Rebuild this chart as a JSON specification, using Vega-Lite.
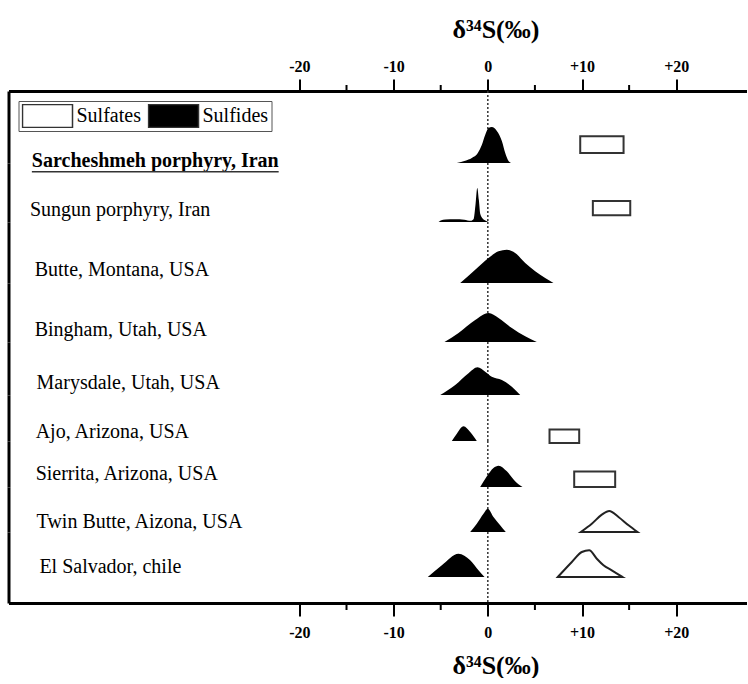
{
  "$schema": "https://vega.github.io/schema/vega-lite/v6.json",
  "padding": {"left": 8.5, "top": 16, "right": 0, "bottom": 0},
  "background": "white",
  "bounds": "flush",
  "datasets": {
    "sites": [
      {"site": "Sarcheshmeh porphyry, Iran"},
      {"site": "Sungun porphyry, Iran"},
      {"site": "Butte, Montana, USA"},
      {"site": "Bingham, Utah, USA"},
      {"site": "Marysdale, Utah, USA"},
      {"site": "Ajo, Arizona, USA"},
      {"site": "Sierrita, Arizona, USA"},
      {"site": "Twin Butte, Aizona, USA"},
      {"site": "El Salvador, chile"}
    ],
    "minor_ticks": [{"d34S": -15}, {"d34S": -5}, {"d34S": 5}, {"d34S": 15}],
    "sulfides": [
      {"site": "Sarcheshmeh porphyry, Iran", "d34S": -3.29, "freq": 0},
      {"site": "Sarcheshmeh porphyry, Iran", "d34S": -2.4, "freq": 0.23},
      {"site": "Sarcheshmeh porphyry, Iran", "d34S": -1.7, "freq": 0.5},
      {"site": "Sarcheshmeh porphyry, Iran", "d34S": -1.06, "freq": 1.0},
      {"site": "Sarcheshmeh porphyry, Iran", "d34S": -0.64, "freq": 1.8},
      {"site": "Sarcheshmeh porphyry, Iran", "d34S": -0.28, "freq": 2.8},
      {"site": "Sarcheshmeh porphyry, Iran", "d34S": 0.07, "freq": 3.5},
      {"site": "Sarcheshmeh porphyry, Iran", "d34S": 0.42, "freq": 3.6},
      {"site": "Sarcheshmeh porphyry, Iran", "d34S": 0.96, "freq": 3.2},
      {"site": "Sarcheshmeh porphyry, Iran", "d34S": 1.49, "freq": 2.2},
      {"site": "Sarcheshmeh porphyry, Iran", "d34S": 1.85, "freq": 1.0},
      {"site": "Sarcheshmeh porphyry, Iran", "d34S": 2.2, "freq": 0.2},
      {"site": "Sarcheshmeh porphyry, Iran", "d34S": 2.48, "freq": 0},
      {"site": "Sungun porphyry, Iran", "d34S": -5.23, "freq": 0},
      {"site": "Sungun porphyry, Iran", "d34S": -5.0, "freq": 0.15},
      {"site": "Sungun porphyry, Iran", "d34S": -4.5, "freq": 0.25},
      {"site": "Sungun porphyry, Iran", "d34S": -3.5, "freq": 0.28},
      {"site": "Sungun porphyry, Iran", "d34S": -2.5, "freq": 0.23},
      {"site": "Sungun porphyry, Iran", "d34S": -1.8, "freq": 0.12},
      {"site": "Sungun porphyry, Iran", "d34S": -1.5, "freq": 0.3},
      {"site": "Sungun porphyry, Iran", "d34S": -1.3, "freq": 1.8},
      {"site": "Sungun porphyry, Iran", "d34S": -1.12, "freq": 3.4},
      {"site": "Sungun porphyry, Iran", "d34S": -0.95, "freq": 2.2},
      {"site": "Sungun porphyry, Iran", "d34S": -0.8, "freq": 0.8},
      {"site": "Sungun porphyry, Iran", "d34S": -0.5, "freq": 0.3},
      {"site": "Sungun porphyry, Iran", "d34S": -0.2, "freq": 0.12},
      {"site": "Sungun porphyry, Iran", "d34S": 0.05, "freq": 0},
      {"site": "Butte, Montana, USA", "d34S": -2.93, "freq": 0},
      {"site": "Butte, Montana, USA", "d34S": -1.34, "freq": 1.33},
      {"site": "Butte, Montana, USA", "d34S": 0.07, "freq": 2.5},
      {"site": "Butte, Montana, USA", "d34S": 1.14, "freq": 3.17},
      {"site": "Butte, Montana, USA", "d34S": 2.02, "freq": 3.33},
      {"site": "Butte, Montana, USA", "d34S": 2.9, "freq": 3.0},
      {"site": "Butte, Montana, USA", "d34S": 3.97, "freq": 2.0},
      {"site": "Butte, Montana, USA", "d34S": 5.03, "freq": 1.17},
      {"site": "Butte, Montana, USA", "d34S": 6.09, "freq": 0.5},
      {"site": "Butte, Montana, USA", "d34S": 6.97, "freq": 0},
      {"site": "Bingham, Utah, USA", "d34S": -4.6, "freq": 0},
      {"site": "Bingham, Utah, USA", "d34S": -3.11, "freq": 0.9},
      {"site": "Bingham, Utah, USA", "d34S": -1.34, "freq": 2.2},
      {"site": "Bingham, Utah, USA", "d34S": 0.07, "freq": 2.9},
      {"site": "Bingham, Utah, USA", "d34S": 1.14, "freq": 2.4},
      {"site": "Bingham, Utah, USA", "d34S": 2.55, "freq": 1.4},
      {"site": "Bingham, Utah, USA", "d34S": 3.97, "freq": 0.57},
      {"site": "Bingham, Utah, USA", "d34S": 5.2, "freq": 0},
      {"site": "Marysdale, Utah, USA", "d34S": -5.05, "freq": 0},
      {"site": "Marysdale, Utah, USA", "d34S": -3.46, "freq": 1.0},
      {"site": "Marysdale, Utah, USA", "d34S": -2.05, "freq": 2.17},
      {"site": "Marysdale, Utah, USA", "d34S": -1.09, "freq": 2.77},
      {"site": "Marysdale, Utah, USA", "d34S": -0.28, "freq": 2.33},
      {"site": "Marysdale, Utah, USA", "d34S": 0.42, "freq": 1.83},
      {"site": "Marysdale, Utah, USA", "d34S": 1.49, "freq": 1.5},
      {"site": "Marysdale, Utah, USA", "d34S": 2.55, "freq": 0.83},
      {"site": "Marysdale, Utah, USA", "d34S": 3.44, "freq": 0},
      {"site": "Ajo, Arizona, USA", "d34S": -3.82, "freq": 0},
      {"site": "Ajo, Arizona, USA", "d34S": -3.29, "freq": 0.73},
      {"site": "Ajo, Arizona, USA", "d34S": -2.58, "freq": 1.47},
      {"site": "Ajo, Arizona, USA", "d34S": -1.87, "freq": 0.9},
      {"site": "Ajo, Arizona, USA", "d34S": -1.17, "freq": 0},
      {"site": "Sierrita, Arizona, USA", "d34S": -0.81, "freq": 0},
      {"site": "Sierrita, Arizona, USA", "d34S": -0.1, "freq": 1.07},
      {"site": "Sierrita, Arizona, USA", "d34S": 0.6, "freq": 1.9},
      {"site": "Sierrita, Arizona, USA", "d34S": 1.14, "freq": 2.13},
      {"site": "Sierrita, Arizona, USA", "d34S": 2.02, "freq": 1.57},
      {"site": "Sierrita, Arizona, USA", "d34S": 2.9, "freq": 0.57},
      {"site": "Sierrita, Arizona, USA", "d34S": 3.68, "freq": 0},
      {"site": "Twin Butte, Aizona, USA", "d34S": -1.87, "freq": 0},
      {"site": "Twin Butte, Aizona, USA", "d34S": -1.17, "freq": 0.83},
      {"site": "Twin Butte, Aizona, USA", "d34S": -0.46, "freq": 1.83},
      {"site": "Twin Butte, Aizona, USA", "d34S": 0.0, "freq": 2.33},
      {"site": "Twin Butte, Aizona, USA", "d34S": 0.6, "freq": 1.5},
      {"site": "Twin Butte, Aizona, USA", "d34S": 1.31, "freq": 0.67},
      {"site": "Twin Butte, Aizona, USA", "d34S": 1.91, "freq": 0},
      {"site": "El Salvador, chile", "d34S": -6.37, "freq": 0},
      {"site": "El Salvador, chile", "d34S": -4.88, "freq": 1.17},
      {"site": "El Salvador, chile", "d34S": -3.11, "freq": 2.33},
      {"site": "El Salvador, chile", "d34S": -1.87, "freq": 1.67},
      {"site": "El Salvador, chile", "d34S": -0.99, "freq": 0.67},
      {"site": "El Salvador, chile", "d34S": -0.35, "freq": 0}
    ],
    "sulfates": [
      {"site": "Twin Butte, Aizona, USA", "d34S": 9.87, "freq": 0},
      {"site": "Twin Butte, Aizona, USA", "d34S": 11.04, "freq": 0.83},
      {"site": "Twin Butte, Aizona, USA", "d34S": 12.1, "freq": 1.73},
      {"site": "Twin Butte, Aizona, USA", "d34S": 12.89, "freq": 2.1},
      {"site": "Twin Butte, Aizona, USA", "d34S": 13.87, "freq": 1.5},
      {"site": "Twin Butte, Aizona, USA", "d34S": 14.94, "freq": 0.67},
      {"site": "Twin Butte, Aizona, USA", "d34S": 15.89, "freq": 0},
      {"site": "El Salvador, chile", "d34S": 7.43, "freq": 0},
      {"site": "El Salvador, chile", "d34S": 8.92, "freq": 1.5},
      {"site": "El Salvador, chile", "d34S": 9.98, "freq": 2.5},
      {"site": "El Salvador, chile", "d34S": 10.76, "freq": 2.67},
      {"site": "El Salvador, chile", "d34S": 11.57, "freq": 1.83},
      {"site": "El Salvador, chile", "d34S": 12.28, "freq": 1.17},
      {"site": "El Salvador, chile", "d34S": 13.16, "freq": 0.67},
      {"site": "El Salvador, chile", "d34S": 14.3, "freq": 0}
    ],
    "sulfate_ranges": [
      {"site": "Sarcheshmeh porphyry, Iran", "lo": 9.81, "hi": 14.41},
      {"site": "Sungun porphyry, Iran", "lo": 11.15, "hi": 15.12},
      {"site": "Ajo, Arizona, USA", "lo": 6.55, "hi": 9.7},
      {"site": "Sierrita, Arizona, USA", "lo": 9.17, "hi": 13.52}
    ]
  },
  "vconcat": [
    {
      "height": 72, "width": 738,
      "layer": [
        {"data": {"name": "sites"}, "transform": [{"filter": "datum.site === 'Sarcheshmeh porphyry, Iran'"}],
         "mark": {"type": "rule", "strokeDash": [2, 2], "strokeWidth": 1.5, "color": "#333"},
         "encoding": {"x": {"datum": 0, "type": "quantitative"}}},
        {"data": {"name": "minor_ticks"},
         "mark": {"type": "rule", "strokeWidth": 2, "color": "black"},
         "encoding": {"x": {"field": "d34S", "type": "quantitative"},
                      "y": {"datum": 7.2, "type": "quantitative", "title": null}, "y2": {"datum": 7.8}}},
        {"data": {"name": "sulfides"}, "transform": [{"filter": "datum.site === 'Sarcheshmeh porphyry, Iran'"}],
         "mark": {"type": "area", "interpolate": "monotone"},
         "encoding": {
           "x": {"field": "d34S", "type": "quantitative", "scale": {"domain": [-50.88, 27.46], "nice": false, "zero": false},
                 "axis": {"orient": "top", "values": [-20, -10, 0, 10, 20],
                          "labelExpr": "datum.value > 0 ? '+' + datum.value : '' + datum.value",
                          "tickSize": 12,
                          "labelPadding": 5, "title": "δ³⁴S(‰)", "titleX": 487, "titlePadding": 16}},
           "y": {"field": "freq", "type": "quantitative", "stack": null, "scale": {"domain": [0, 7.2], "nice": false, "zero": false}, "title": null},
           "color": {"datum": "Sulfides", "type": "nominal",
                     "scale": {"domain": ["Sulfates", "Sulfides"], "range": ["white", "black"]},
                     "legend": {"orient": "top-left", "offset": 10, "direction": "horizontal", "title": null,
                                "symbolType": "M-1,-0.46H1V0.46H-1Z", "symbolSize": 2500, "clipHeight": 24,
                                "symbolStrokeColor": "#555", "symbolStrokeWidth": 1.5, "symbolOpacity": 1,
                                "labelFont": "Liberation Serif", "labelFontSize": 20, "labelColor": "black",
                                "labelOffset": 3, "columnPadding": 6, "padding": 3,
                                "strokeColor": "#555", "fillColor": "white"}}
         }},
        {"data": {"name": "sulfate_ranges"}, "transform": [{"filter": "datum.site === 'Sarcheshmeh porphyry, Iran'"}],
         "mark": {"type": "rect", "stroke": "#333", "strokeWidth": 2},
         "encoding": {"x": {"field": "lo", "type": "quantitative"}, "x2": {"field": "hi"},
                      "y": {"datum": 1.0, "type": "quantitative", "title": null}, "y2": {"datum": 2.67},
                      "color": {"datum": "Sulfates", "type": "nominal"}}},
        {"data": {"name": "sites"}, "transform": [{"filter": "datum.site === 'Sarcheshmeh porphyry, Iran'"}],
         "mark": {"type": "text", "align": "left", "baseline": "middle", "font": "Liberation Serif", "fontSize": 20, "fontWeight": "bold", "color": "black"},
         "encoding": {"x": {"datum": -48.4, "type": "quantitative"}, "y": {"datum": 0.23, "type": "quantitative", "title": null}, "text": {"field": "site"}}},
        {"data": {"name": "sites"}, "transform": [{"filter": "datum.site === 'Sarcheshmeh porphyry, Iran'"}],
         "mark": {"type": "rule", "strokeWidth": 1.5, "color": "#333"},
         "encoding": {"x": {"datum": -48.4, "type": "quantitative"}, "x2": {"datum": -22.2}, "y": {"datum": -0.87, "type": "quantitative", "title": null}}}
      ]
    },
    {
      "height": 59, "width": 738,
      "layer": [
        {"data": {"name": "sites"}, "transform": [{"filter": "datum.site === 'Sungun porphyry, Iran'"}],
         "mark": {"type": "rule", "strokeDash": [2, 2], "strokeWidth": 1.5, "color": "#333"},
         "encoding": {"x": {"datum": 0, "type": "quantitative", "axis": null}}},
        {"data": {"name": "sulfides"}, "transform": [{"filter": "datum.site === 'Sungun porphyry, Iran'"}],
         "mark": {"type": "area", "interpolate": "monotone", "fill": "black"},
         "encoding": {"x": {"field": "d34S", "type": "quantitative", "scale": {"domain": [-50.88, 27.46], "nice": false, "zero": false}, "axis": null},
                      "y": {"field": "freq", "type": "quantitative", "stack": null, "scale": {"domain": [0, 5.9], "nice": false, "zero": false}, "title": null}}},
        {"data": {"name": "sulfate_ranges"}, "transform": [{"filter": "datum.site === 'Sungun porphyry, Iran'"}],
         "mark": {"type": "rect", "fill": "white", "stroke": "#333", "strokeWidth": 2},
         "encoding": {"x": {"field": "lo", "type": "quantitative", "axis": null}, "x2": {"field": "hi"},
                      "y": {"datum": 0.67, "type": "quantitative", "title": null}, "y2": {"datum": 2.1}}},
        {"data": {"name": "sites"}, "transform": [{"filter": "datum.site === 'Sungun porphyry, Iran'"}],
         "mark": {"type": "text", "align": "left", "baseline": "middle", "font": "Liberation Serif", "fontSize": 20, "color": "black"},
         "encoding": {"x": {"datum": -48.6, "type": "quantitative", "axis": null}, "y": {"datum": 1.25, "type": "quantitative", "title": null}, "text": {"field": "site"}}}
      ]
    },
    {
      "height": 61, "width": 738,
      "layer": [
        {"data": {"name": "sites"}, "transform": [{"filter": "datum.site === 'Butte, Montana, USA'"}],
         "mark": {"type": "rule", "strokeDash": [2, 2], "strokeWidth": 1.5, "color": "#333"},
         "encoding": {"x": {"datum": 0, "type": "quantitative", "axis": null}}},
        {"data": {"name": "sulfides"}, "transform": [{"filter": "datum.site === 'Butte, Montana, USA'"}],
         "mark": {"type": "area", "interpolate": "monotone", "fill": "black"},
         "encoding": {"x": {"field": "d34S", "type": "quantitative", "scale": {"domain": [-50.88, 27.46], "nice": false, "zero": false}, "axis": null},
                      "y": {"field": "freq", "type": "quantitative", "stack": null, "scale": {"domain": [0, 6.1], "nice": false, "zero": false}, "title": null}}},
        {"data": {"name": "sites"}, "transform": [{"filter": "datum.site === 'Butte, Montana, USA'"}],
         "mark": {"type": "text", "align": "left", "baseline": "middle", "font": "Liberation Serif", "fontSize": 20, "color": "black"},
         "encoding": {"x": {"datum": -48.1, "type": "quantitative", "axis": null}, "y": {"datum": 1.3, "type": "quantitative", "title": null}, "text": {"field": "site"}}}
      ]
    },
    {
      "height": 59, "width": 738,
      "layer": [
        {"data": {"name": "sites"}, "transform": [{"filter": "datum.site === 'Bingham, Utah, USA'"}],
         "mark": {"type": "rule", "strokeDash": [2, 2], "strokeWidth": 1.5, "color": "#333"},
         "encoding": {"x": {"datum": 0, "type": "quantitative", "axis": null}}},
        {"data": {"name": "sulfides"}, "transform": [{"filter": "datum.site === 'Bingham, Utah, USA'"}],
         "mark": {"type": "area", "interpolate": "monotone", "fill": "black"},
         "encoding": {"x": {"field": "d34S", "type": "quantitative", "scale": {"domain": [-50.88, 27.46], "nice": false, "zero": false}, "axis": null},
                      "y": {"field": "freq", "type": "quantitative", "stack": null, "scale": {"domain": [0, 5.9], "nice": false, "zero": false}, "title": null}}},
        {"data": {"name": "sites"}, "transform": [{"filter": "datum.site === 'Bingham, Utah, USA'"}],
         "mark": {"type": "text", "align": "left", "baseline": "middle", "font": "Liberation Serif", "fontSize": 20, "color": "black"},
         "encoding": {"x": {"datum": -48.1, "type": "quantitative", "axis": null}, "y": {"datum": 1.23, "type": "quantitative", "title": null}, "text": {"field": "site"}}}
      ]
    },
    {
      "height": 53, "width": 738,
      "layer": [
        {"data": {"name": "sites"}, "transform": [{"filter": "datum.site === 'Marysdale, Utah, USA'"}],
         "mark": {"type": "rule", "strokeDash": [2, 2], "strokeWidth": 1.5, "color": "#333"},
         "encoding": {"x": {"datum": 0, "type": "quantitative", "axis": null}}},
        {"data": {"name": "sulfides"}, "transform": [{"filter": "datum.site === 'Marysdale, Utah, USA'"}],
         "mark": {"type": "area", "interpolate": "monotone", "fill": "black"},
         "encoding": {"x": {"field": "d34S", "type": "quantitative", "scale": {"domain": [-50.88, 27.46], "nice": false, "zero": false}, "axis": null},
                      "y": {"field": "freq", "type": "quantitative", "stack": null, "scale": {"domain": [0, 5.3], "nice": false, "zero": false}, "title": null}}},
        {"data": {"name": "sites"}, "transform": [{"filter": "datum.site === 'Marysdale, Utah, USA'"}],
         "mark": {"type": "text", "align": "left", "baseline": "middle", "font": "Liberation Serif", "fontSize": 20, "color": "black"},
         "encoding": {"x": {"datum": -47.9, "type": "quantitative", "axis": null}, "y": {"datum": 1.2, "type": "quantitative", "title": null}, "text": {"field": "site"}}}
      ]
    },
    {
      "height": 46, "width": 738,
      "layer": [
        {"data": {"name": "sites"}, "transform": [{"filter": "datum.site === 'Ajo, Arizona, USA'"}],
         "mark": {"type": "rule", "strokeDash": [2, 2], "strokeWidth": 1.5, "color": "#333"},
         "encoding": {"x": {"datum": 0, "type": "quantitative", "axis": null}}},
        {"data": {"name": "sulfides"}, "transform": [{"filter": "datum.site === 'Ajo, Arizona, USA'"}],
         "mark": {"type": "area", "interpolate": "monotone", "fill": "black"},
         "encoding": {"x": {"field": "d34S", "type": "quantitative", "scale": {"domain": [-50.88, 27.46], "nice": false, "zero": false}, "axis": null},
                      "y": {"field": "freq", "type": "quantitative", "stack": null, "scale": {"domain": [0, 4.6], "nice": false, "zero": false}, "title": null}}},
        {"data": {"name": "sulfate_ranges"}, "transform": [{"filter": "datum.site === 'Ajo, Arizona, USA'"}],
         "mark": {"type": "rect", "fill": "white", "stroke": "#333", "strokeWidth": 2},
         "encoding": {"x": {"field": "lo", "type": "quantitative", "axis": null}, "x2": {"field": "hi"},
                      "y": {"datum": -0.2, "type": "quantitative", "title": null}, "y2": {"datum": 1.14}}},
        {"data": {"name": "sites"}, "transform": [{"filter": "datum.site === 'Ajo, Arizona, USA'"}],
         "mark": {"type": "text", "align": "left", "baseline": "middle", "font": "Liberation Serif", "fontSize": 20, "color": "black"},
         "encoding": {"x": {"datum": -48.0, "type": "quantitative", "axis": null}, "y": {"datum": 0.87, "type": "quantitative", "title": null}, "text": {"field": "site"}}}
      ]
    },
    {
      "height": 46, "width": 738,
      "layer": [
        {"data": {"name": "sites"}, "transform": [{"filter": "datum.site === 'Sierrita, Arizona, USA'"}],
         "mark": {"type": "rule", "strokeDash": [2, 2], "strokeWidth": 1.5, "color": "#333"},
         "encoding": {"x": {"datum": 0, "type": "quantitative", "axis": null}}},
        {"data": {"name": "sulfides"}, "transform": [{"filter": "datum.site === 'Sierrita, Arizona, USA'"}],
         "mark": {"type": "area", "interpolate": "monotone", "fill": "black"},
         "encoding": {"x": {"field": "d34S", "type": "quantitative", "scale": {"domain": [-50.88, 27.46], "nice": false, "zero": false}, "axis": null},
                      "y": {"field": "freq", "type": "quantitative", "stack": null, "scale": {"domain": [0, 4.6], "nice": false, "zero": false}, "title": null}}},
        {"data": {"name": "sulfate_ranges"}, "transform": [{"filter": "datum.site === 'Sierrita, Arizona, USA'"}],
         "mark": {"type": "rect", "fill": "white", "stroke": "#333", "strokeWidth": 2},
         "encoding": {"x": {"field": "lo", "type": "quantitative", "axis": null}, "x2": {"field": "hi"},
                      "y": {"datum": 0.0, "type": "quantitative", "title": null}, "y2": {"datum": 1.56}}},
        {"data": {"name": "sites"}, "transform": [{"filter": "datum.site === 'Sierrita, Arizona, USA'"}],
         "mark": {"type": "text", "align": "left", "baseline": "middle", "font": "Liberation Serif", "fontSize": 20, "color": "black"},
         "encoding": {"x": {"datum": -48.0, "type": "quantitative", "axis": null}, "y": {"datum": 1.33, "type": "quantitative", "title": null}, "text": {"field": "site"}}}
      ]
    },
    {
      "height": 45, "width": 738,
      "layer": [
        {"data": {"name": "sites"}, "transform": [{"filter": "datum.site === 'Twin Butte, Aizona, USA'"}],
         "mark": {"type": "rule", "strokeDash": [2, 2], "strokeWidth": 1.5, "color": "#333"},
         "encoding": {"x": {"datum": 0, "type": "quantitative", "axis": null}}},
        {"data": {"name": "sulfides"}, "transform": [{"filter": "datum.site === 'Twin Butte, Aizona, USA'"}],
         "mark": {"type": "area", "interpolate": "monotone", "fill": "black"},
         "encoding": {"x": {"field": "d34S", "type": "quantitative", "scale": {"domain": [-50.88, 27.46], "nice": false, "zero": false}, "axis": null},
                      "y": {"field": "freq", "type": "quantitative", "stack": null, "scale": {"domain": [0, 4.5], "nice": false, "zero": false}, "title": null}}},
        {"data": {"name": "sulfates"}, "transform": [{"filter": "datum.site === 'Twin Butte, Aizona, USA'"}],
         "mark": {"type": "area", "interpolate": "monotone", "fill": "white", "stroke": "#222", "strokeWidth": 2},
         "encoding": {"x": {"field": "d34S", "type": "quantitative", "axis": null},
                      "y": {"field": "freq", "type": "quantitative", "stack": null, "title": null}}},
        {"data": {"name": "sites"}, "transform": [{"filter": "datum.site === 'Twin Butte, Aizona, USA'"}],
         "mark": {"type": "text", "align": "left", "baseline": "middle", "font": "Liberation Serif", "fontSize": 20, "color": "black"},
         "encoding": {"x": {"datum": -47.9, "type": "quantitative", "axis": null}, "y": {"datum": 0.97, "type": "quantitative", "title": null}, "text": {"field": "site"}}}
      ]
    },
    {
      "height": 71, "width": 738,
      "layer": [
        {"data": {"name": "sites"}, "transform": [{"filter": "datum.site === 'El Salvador, chile'"}],
         "mark": {"type": "rule", "strokeDash": [2, 2], "strokeWidth": 1.5, "color": "#333"},
         "encoding": {"x": {"datum": 0, "type": "quantitative"}}},
        {"data": {"name": "minor_ticks"},
         "mark": {"type": "rule", "strokeWidth": 2, "color": "black"},
         "encoding": {"x": {"field": "d34S", "type": "quantitative"},
                      "y": {"datum": -2.6, "type": "quantitative", "title": null}, "y2": {"datum": -3.3}}},
        {"data": {"name": "sulfides"}, "transform": [{"filter": "datum.site === 'El Salvador, chile'"}],
         "mark": {"type": "area", "interpolate": "monotone", "fill": "black"},
         "encoding": {"x": {"field": "d34S", "type": "quantitative", "scale": {"domain": [-50.88, 27.46], "nice": false, "zero": false},
                            "axis": {"orient": "bottom", "values": [-20, -10, 0, 10, 20],
                                     "labelExpr": "datum.value > 0 ? '+' + datum.value : '' + datum.value",
                                     "tickSize": 13,
                                     "labelPadding": 8, "title": "δ³⁴S(‰)", "titleX": 487, "titlePadding": 12}},
                      "y": {"field": "freq", "type": "quantitative", "stack": null, "scale": {"domain": [-2.6, 4.5], "nice": false, "zero": false}, "title": null}}},
        {"data": {"name": "sulfates"}, "transform": [{"filter": "datum.site === 'El Salvador, chile'"}],
         "mark": {"type": "area", "interpolate": "monotone", "fill": "white", "stroke": "#222", "strokeWidth": 2},
         "encoding": {"x": {"field": "d34S", "type": "quantitative"},
                      "y": {"field": "freq", "type": "quantitative", "stack": null, "title": null}}},
        {"data": {"name": "sites"}, "transform": [{"filter": "datum.site === 'El Salvador, chile'"}],
         "mark": {"type": "text", "align": "left", "baseline": "middle", "font": "Liberation Serif", "fontSize": 20, "color": "black"},
         "encoding": {"x": {"datum": -47.6, "type": "quantitative"}, "y": {"datum": 1.0, "type": "quantitative", "title": null}, "text": {"field": "site"}}}
      ]
    }
  ],
  "spacing": 0,
  "resolve": {"legend": {"color": "independent"}},
  "config": {
    "font": "Liberation Serif",
    "view": {"stroke": null},
    "axis": {"grid": false, "domainColor": "black", "domainWidth": 3},
    "axisY": {"labels": false, "ticks": false},
    "axisX": {"tickColor": "black", "tickWidth": 2, "labelFont": "Liberation Serif", "labelFontSize": 16, "labelFontWeight": "bold", "labelColor": "black",
              "titleFont": "Liberation Serif", "titleFontSize": 26, "titleFontWeight": "bold", "titleColor": "black",
              "labelOverlap": false, "labelFlush": false, "labelBound": false}
  }
}
